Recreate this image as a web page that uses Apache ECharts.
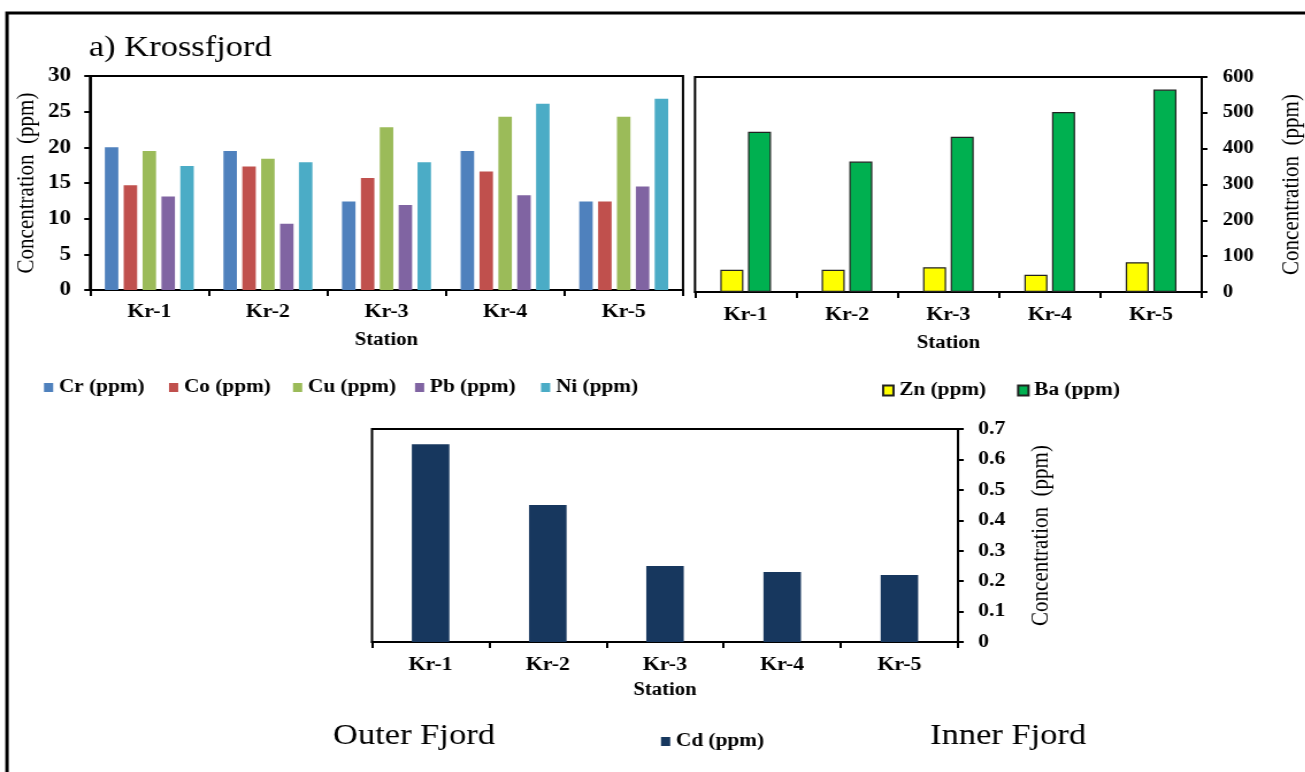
<!DOCTYPE html>
<html>
<head>
<meta charset="utf-8">
<script src="https://cdn.jsdelivr.net/npm/echarts@6/dist/echarts.min.js"></script>
<style>
  html, body { margin: 0; padding: 0; background: #fff; overflow: hidden; }
  #wrap { width: 1305px; height: 772px; overflow: hidden; }
  /* the figure is laid out in a narrower box and widened horizontally */
  #chart { height: 772px; transform-origin: 0 0; }
</style>
</head>
<body>
<div id="wrap"><div id="chart"></div></div>
<script>
// Stations along the fjord, outer to inner
const stations = ['Kr-1', 'Kr-2', 'Kr-3', 'Kr-4', 'Kr-5'];

// Trace metals (ppm)
const cr = [20.0, 19.5, 12.4, 19.5, 12.4];
const co = [14.7, 17.3, 15.7, 16.6, 12.4];
const cu = [19.5, 18.4, 22.8, 24.3, 24.3];
const pb = [13.1, 9.3, 11.9, 13.3, 14.5];
const ni = [17.4, 17.9, 17.9, 26.1, 26.8];

// Major metals (ppm)
const zn = [62, 62, 69, 48, 83];
const ba = [447, 364, 433, 502, 565];

// Cadmium (ppm)
const cd = [0.65, 0.45, 0.25, 0.23, 0.22];

// Axis ticks
const leftTicks = { min: 0, max: 30, interval: 5 };
const rightTicks = { min: 0, max: 600, interval: 100 };
const cdTicks = { min: 0, max: 0.7, interval: 0.1 };

// Horizontal widening of the whole figure
const SX = 1.15;
const W = 1305;
const px = v => v / SX;   // page x -> chart x

const el = document.getElementById('chart');
el.style.width = (W / SX) + 'px';
el.style.transform = 'scaleX(' + SX + ')';

const serif = "'Liberation Serif', 'Times New Roman', serif";
const black = '#000';

function catAxis(gridIndex, labelMargin, nameGap) {
  return {
    type: 'category', gridIndex, data: stations,
    name: 'Station', nameLocation: 'middle', nameGap,
    nameTextStyle: { fontFamily: serif, fontSize: 18, fontWeight: 'bold', color: black },
    axisLine: { lineStyle: { color: black, width: 2 } },
    axisTick: { show: true, inside: false, length: 6, lineStyle: { color: black, width: 2 } },
    axisLabel: { fontFamily: serif, fontSize: 19, fontWeight: 'bold', color: black, margin: labelMargin },
    splitLine: { show: false }
  };
}

function valAxis(gridIndex, ticks, position, nameGap, labelMargin, labelSize) {
  return {
    type: 'value', gridIndex, position,
    min: ticks.min, max: ticks.max, interval: ticks.interval,
    name: 'Concentration  (ppm)', nameLocation: 'middle', nameGap, nameRotate: 90,
    nameTextStyle: { fontFamily: serif, fontSize: 21, color: black },
    axisLine: { show: true, lineStyle: { color: black, width: 2 } },
    axisTick: { show: true, inside: false, length: 5, lineStyle: { color: black, width: 2 } },
    axisLabel: { fontFamily: serif, fontSize: labelSize, fontWeight: 'bold', color: black, margin: labelMargin },
    splitLine: { show: false }
  };
}

// One legend entry placed at a page x position
function legendItem(name, pageX, top, bordered) {
  return {
    data: [name], left: px(pageX), top, padding: 0,
    itemWidth: bordered ? 9 : 8, itemHeight: bordered ? 10 : 9, itemGap: 0,
    icon: 'rect',
    textStyle: { fontFamily: serif, fontSize: 18.5, fontWeight: 'bold', color: black }
  };
}

const chart = echarts.init(el, null, { renderer: 'canvas' });

const option = {
  backgroundColor: '#fff',
  animation: false,
  title: {
    text: 'a) Krossfjord', left: px(83), top: 28,
    textStyle: { fontFamily: serif, fontSize: 30, fontWeight: 'normal', color: black }
  },
  grid: [
    { left: px(90), top: 76, width: px(593), height: 214, show: true, borderColor: black, borderWidth: 2 },
    { left: px(695), top: 77, width: px(518), height: 215, show: true, borderColor: black, borderWidth: 2 },
    { left: px(372), top: 429, width: px(586), height: 213, show: true, borderColor: black, borderWidth: 2 }
  ],
  xAxis: [
    catAxis(0, 13, 41),
    catAxis(1, 14, 42),
    catAxis(2, 14, 39)
  ],
  yAxis: [
    valAxis(0, leftTicks, 'left', 44, px(19), 20),
    valAxis(1, rightTicks, 'right', 68, px(21), 18),
    valAxis(2, cdTicks, 'right', 62, px(20), 19)
  ],
  legend: [
    legendItem('Cr (ppm)', 44, 378),
    legendItem('Co (ppm)', 169, 378),
    legendItem('Cu (ppm)', 293, 378),
    legendItem('Pb (ppm)', 415, 378),
    legendItem('Ni (ppm)', 541, 378),
    legendItem('Zn (ppm)', 882, 381, true),
    legendItem('Ba (ppm)', 1017, 381, true),
    legendItem('Cd (ppm)', 661, 732)
  ],
  graphic: [
    {
      type: 'rect', silent: true,
      shape: { x: px(7), y: 13, width: px(1320), height: 790 },
      style: { fill: 'none', stroke: black, lineWidth: 3 }
    },
    {
      type: 'text', left: px(333), top: 721, silent: true,
      style: { text: 'Outer Fjord', fontFamily: serif, fontSize: 30, fill: black }
    },
    {
      type: 'text', left: px(930), top: 721, silent: true,
      style: { text: 'Inner Fjord', fontFamily: serif, fontSize: 30, fill: black }
    }
  ],
  series: [
    { name: 'Cr (ppm)', type: 'bar', xAxisIndex: 0, yAxisIndex: 0, data: cr,
      itemStyle: { color: '#4F81BD' }, barGap: '40%', barCategoryGap: '25%' },
    { name: 'Co (ppm)', type: 'bar', xAxisIndex: 0, yAxisIndex: 0, data: co,
      itemStyle: { color: '#C0504D' }, barGap: '40%', barCategoryGap: '25%' },
    { name: 'Cu (ppm)', type: 'bar', xAxisIndex: 0, yAxisIndex: 0, data: cu,
      itemStyle: { color: '#9BBB59' }, barGap: '40%', barCategoryGap: '25%' },
    { name: 'Pb (ppm)', type: 'bar', xAxisIndex: 0, yAxisIndex: 0, data: pb,
      itemStyle: { color: '#8064A2' }, barGap: '40%', barCategoryGap: '25%' },
    { name: 'Ni (ppm)', type: 'bar', xAxisIndex: 0, yAxisIndex: 0, data: ni,
      itemStyle: { color: '#4BACC6' }, barGap: '40%', barCategoryGap: '25%' },

    { name: 'Zn (ppm)', type: 'bar', xAxisIndex: 1, yAxisIndex: 1, data: zn,
      itemStyle: { color: '#FFFF00', borderColor: '#222', borderWidth: 1.2 },
      barGap: '20%', barCategoryGap: '50%' },
    { name: 'Ba (ppm)', type: 'bar', xAxisIndex: 1, yAxisIndex: 1, data: ba,
      itemStyle: { color: '#00B050', borderColor: '#222', borderWidth: 1.2 },
      barGap: '20%', barCategoryGap: '50%' },

    { name: 'Cd (ppm)', type: 'bar', xAxisIndex: 2, yAxisIndex: 2, data: cd,
      itemStyle: { color: '#17375E' }, barCategoryGap: '68%' }
  ]
};

chart.setOption(option);
</script>
</body>
</html>
